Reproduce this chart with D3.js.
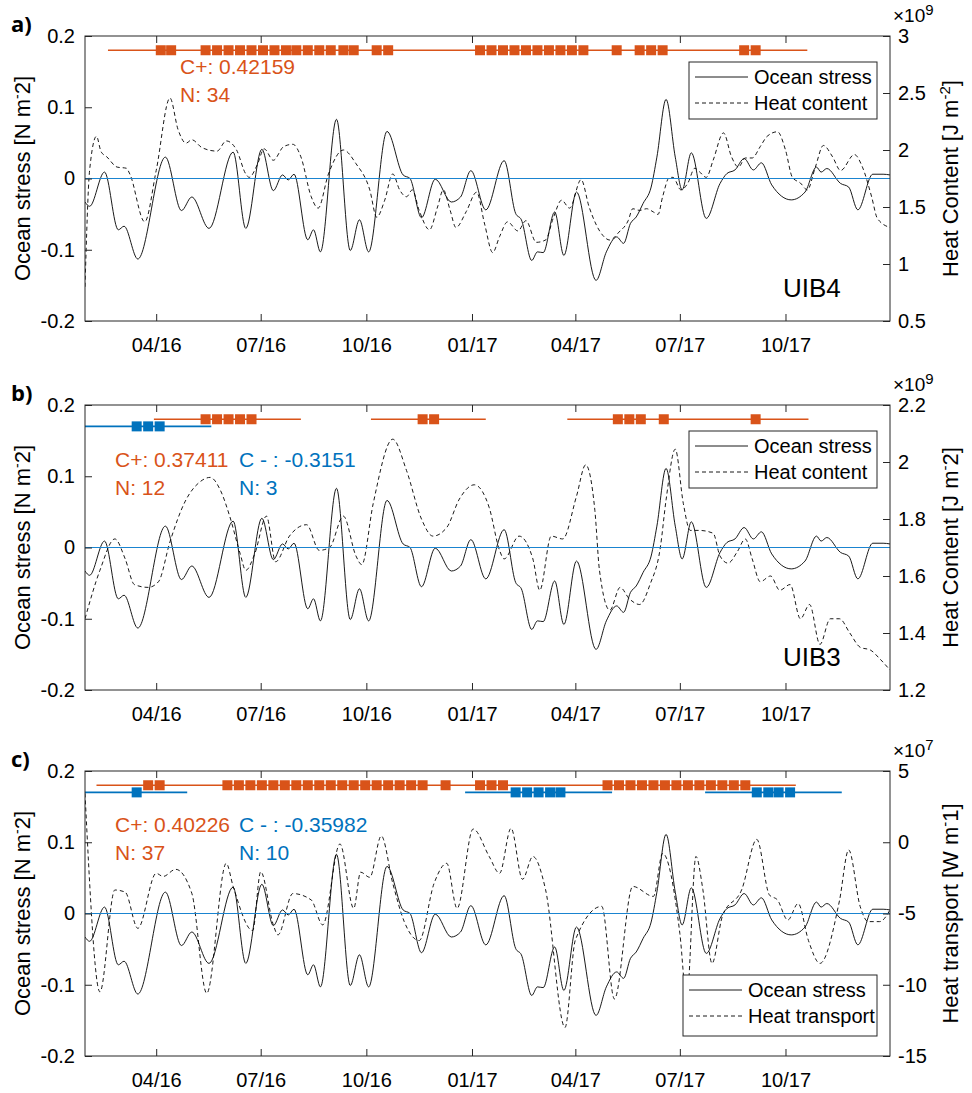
<!DOCTYPE html>
<html>
<head>
<meta charset="utf-8">
<script src="https://cdn.jsdelivr.net/npm/d3@7"></script>
<style>
  body { margin: 0; background: #fff; }
  svg text { font-family: "Liberation Sans", Arial, sans-serif; fill: #000; }
</style>
</head>
<body>
<svg id="chart" width="972" height="1093"></svg>
<script>
// ocean stress (same series in all three panels) [N m-2]
const stress = [
  ["2016-01-30",-0.033],["2016-02-03",-0.039],["2016-02-16",0.009],["2016-02-28",-0.072],["2016-03-04",-0.067],
  ["2016-03-16",-0.113],["2016-04-09",0.030],["2016-04-23",-0.045],["2016-05-02",-0.026],["2016-05-17",-0.070],
  ["2016-06-07",0.037],["2016-06-18",-0.070],["2016-07-02",0.041],["2016-07-12",-0.017],["2016-07-20",0.005],
  ["2016-07-25",-0.002],["2016-07-30",0.006],["2016-08-11",-0.086],["2016-08-16",-0.072],["2016-08-22",-0.103],
  ["2016-09-05",0.083],["2016-09-17",-0.101],["2016-09-25",-0.058],["2016-10-03",-0.103],["2016-10-19",0.066],
  ["2016-11-02",0.005],["2016-11-08",0.000],["2016-11-18",-0.055],["2016-11-30",-0.001],["2016-12-14",-0.033],
  ["2016-12-22",-0.026],["2016-12-31",0.011],["2017-01-13",-0.044],["2017-01-29",0.025],["2017-02-08",-0.049],
  ["2017-02-13",-0.058],["2017-02-22",-0.115],["2017-02-27",-0.103],["2017-03-04",-0.104],["2017-03-14",-0.047],
  ["2017-03-22",-0.108],["2017-04-02",-0.019],["2017-04-19",-0.143],["2017-04-28",-0.103],["2017-05-07",-0.082],
  ["2017-05-13",-0.091],["2017-05-19",-0.063],["2017-05-24",-0.054],["2017-05-30",-0.035],["2017-06-06",-0.012],
  ["2017-06-11",0.030],["2017-06-19",0.111],["2017-06-27",0.030],["2017-07-03",-0.016],["2017-07-11",0.036],
  ["2017-07-24",-0.056],["2017-08-05",-0.007],["2017-08-11",0.007],["2017-08-18",0.012],["2017-08-26",0.028],
  ["2017-09-03",0.012],["2017-09-10",0.022],["2017-09-19",-0.009],["2017-10-06",-0.030],["2017-10-18",-0.019],
  ["2017-10-28",0.016],["2017-11-01",0.009],["2017-11-06",0.014],["2017-11-18",-0.007],["2017-11-25",-0.012],
  ["2017-12-03",-0.044],["2017-12-16",0.006],["2017-12-25",0.006],["2017-12-31",0.005]
];

// heat content at UIB4 [x1e9 J m-2]
const heatContentA = [
  ["2016-01-30",0.80],["2016-02-03",1.82],["2016-02-09",2.12],["2016-02-13",1.985],["2016-02-18",1.94],
  ["2016-02-27",1.85],["2016-03-06",1.84],["2016-03-09",1.79],["2016-03-22",1.37],["2016-04-01",1.82],
  ["2016-04-13",2.456],["2016-04-20",2.18],["2016-04-27",2.06],["2016-05-02",2.09],["2016-05-11",2.02],
  ["2016-05-24",1.99],["2016-06-01",2.08],["2016-06-10",2.00],["2016-06-18",1.79],["2016-06-21",1.76],
  ["2016-06-28",1.87],["2016-07-04",2.01],["2016-07-12",1.91],["2016-07-21",2.03],["2016-07-29",2.05],
  ["2016-08-05",1.94],["2016-08-14",1.59],["2016-08-20",1.49],["2016-08-29",1.79],["2016-09-11",2.00],
  ["2016-09-22",1.88],["2016-10-04",1.65],["2016-10-10",1.41],["2016-10-17",1.56],["2016-10-24",1.79],
  ["2016-10-30",1.65],["2016-11-05",1.59],["2016-11-10",1.65],["2016-11-16",1.47],["2016-11-25",1.30],
  ["2016-12-02",1.50],["2016-12-07",1.65],["2016-12-13",1.47],["2016-12-18",1.32],["2016-12-27",1.46],
  ["2017-01-05",1.63],["2017-01-12",1.35],["2017-01-19",1.10],["2017-01-25",1.24],["2017-02-01",1.37],
  ["2017-02-10",1.29],["2017-02-17",1.38],["2017-02-26",1.19],["2017-03-06",1.21],["2017-03-13",1.41],
  ["2017-03-20",1.56],["2017-03-27",1.49],["2017-04-06",1.74],["2017-04-13",1.50],["2017-04-25",1.25],
  ["2017-05-01",1.21],["2017-05-09",1.28],["2017-05-17",1.38],["2017-05-21",1.485],["2017-05-27",1.47],
  ["2017-06-02",1.485],["2017-06-08",1.456],["2017-06-12",1.435],["2017-06-16",1.59],["2017-06-22",1.76],
  ["2017-06-25",1.76],["2017-07-02",1.65],["2017-07-08",1.71],["2017-07-14",1.84],["2017-07-18",1.81],
  ["2017-07-24",1.76],["2017-07-30",1.91],["2017-08-08",2.15],["2017-08-15",1.94],["2017-08-21",1.85],
  ["2017-08-27",1.93],["2017-09-02",1.93],["2017-09-09",2.03],["2017-09-15",2.12],["2017-09-24",2.16],
  ["2017-10-01",2.00],["2017-10-07",1.76],["2017-10-14",1.71],["2017-10-20",1.65],["2017-10-27",1.85],
  ["2017-11-03",2.04],["2017-11-11",1.94],["2017-11-18",1.82],["2017-11-30",1.96],["2017-12-07",1.85],
  ["2017-12-15",1.59],["2017-12-20",1.40],["2017-12-31",1.32]
];

// heat content at UIB3 [x1e9 J m-2]
const heatContentB = [
  ["2016-01-30",1.45],["2016-02-12",1.62],["2016-02-25",1.73],["2016-03-05",1.66],["2016-03-13",1.57],
  ["2016-03-25",1.56],["2016-04-03",1.58],["2016-04-13",1.72],["2016-04-26",1.86],["2016-05-09",1.93],
  ["2016-05-18",1.946],["2016-05-27",1.90],["2016-06-04",1.81],["2016-06-13",1.68],["2016-06-18",1.62],
  ["2016-06-26",1.68],["2016-07-06",1.81],["2016-07-14",1.65],["2016-07-26",1.74],["2016-08-10",1.78],
  ["2016-08-21",1.69],["2016-08-30",1.70],["2016-09-11",1.81],["2016-09-22",1.67],["2016-09-27",1.64],
  ["2016-10-07",1.855],["2016-10-24",2.08],["2016-11-05",1.97],["2016-11-18",1.80],["2016-11-28",1.74],
  ["2016-12-10",1.77],["2016-12-21",1.87],["2017-01-03",1.92],["2017-01-16",1.84],["2017-01-25",1.69],
  ["2017-01-29",1.66],["2017-02-11",1.74],["2017-02-23",1.66],["2017-03-01",1.55],["2017-03-11",1.74],
  ["2017-03-21",1.73],["2017-04-02",1.88],["2017-04-10",1.99],["2017-04-18",1.83],["2017-04-22",1.62],
  ["2017-05-01",1.48],["2017-05-10",1.56],["2017-05-18",1.52],["2017-05-27",1.50],["2017-06-05",1.57],
  ["2017-06-14",1.70],["2017-06-19",1.867],["2017-06-27",2.045],["2017-07-04",1.855],["2017-07-10",1.76],
  ["2017-07-18",1.76],["2017-07-30",1.75],["2017-08-05",1.67],["2017-08-12",1.645],["2017-08-20",1.685],
  ["2017-08-27",1.73],["2017-09-02",1.66],["2017-09-09",1.58],["2017-09-18",1.60],["2017-09-26",1.55],
  ["2017-10-05",1.57],["2017-10-14",1.45],["2017-10-22",1.50],["2017-10-31",1.36],["2017-11-09",1.45],
  ["2017-11-17",1.45],["2017-11-26",1.40],["2017-12-05",1.35],["2017-12-14",1.34],["2017-12-22",1.31],
  ["2017-12-31",1.27]
];

// heat transport [x1e7 W m-1]
const heatTransportC = [
  ["2016-01-30",3.43],["2016-02-12",-10.5],["2016-02-25",-3.35],["2016-03-05",-3.5],["2016-03-16",-6.04],
  ["2016-04-01",-2.18],["2016-04-07",-2.4],["2016-04-18",-1.9],["2016-05-02",-3.58],["2016-05-15",-10.6],
  ["2016-06-01",-1.48],["2016-06-07",-3.1],["2016-06-24",-6.2],["2016-07-01",-2.07],["2016-07-12",-5.8],
  ["2016-07-16",-6.5],["2016-07-29",-3.6],["2016-08-14",-4.05],["2016-08-24",-5.8],["2016-09-08",-0.12],
  ["2016-09-20",-4.64],["2016-09-26",-2.1],["2016-10-04",-2.46],["2016-10-14",0.44],["2016-10-24",-2.88],
  ["2016-11-03",-5.57],["2016-11-16",-6.9],["2016-11-29",-2.88],["2016-12-10",-1.48],["2016-12-19",-4.64],
  ["2017-01-02",0.93],["2017-01-16",-1.0],["2017-01-25",-2.18],["2017-02-04",0.98],["2017-02-14",-2.6],
  ["2017-02-23",-1.0],["2017-03-06",-3.3],["2017-03-23",-13.0],["2017-04-01",-6.86],["2017-04-24",-4.5],
  ["2017-05-05",-11.0],["2017-05-21",-3.1],["2017-06-08",-3.8],["2017-06-16",-0.78],["2017-07-01",-6.4],
  ["2017-07-07",-11.0],["2017-07-15",-1.0],["2017-07-21",-3.3],["2017-07-29",-8.5],["2017-08-07",-5.2],
  ["2017-08-24",-3.3],["2017-09-06",0.2],["2017-09-17",-3.7],["2017-09-24",-4.05],["2017-10-03",-5.46],
  ["2017-10-12",-4.3],["2017-10-21",-6.9],["2017-10-31",-8.5],["2017-11-17",-4.1],["2017-11-25",-0.54],
  ["2017-12-05",-4.5],["2017-12-12",-5.57],["2017-12-22",-5.57],["2017-12-31",-4.75]
];

// detected events: C+ (orange) and C- (blue), with their window segments
const posSegA = [["2016-02-19","2017-10-20"]];
const posEventsA = ["2016-04-05","2016-04-14","2016-05-14","2016-05-24","2016-06-03","2016-06-13","2016-06-23",
  "2016-07-03","2016-07-13","2016-07-23","2016-08-01","2016-08-11","2016-08-21","2016-08-31","2016-09-11",
  "2016-09-20","2016-10-10","2016-10-20","2017-01-08","2017-01-18","2017-01-28","2017-02-07","2017-02-17",
  "2017-02-27","2017-03-09","2017-03-19","2017-03-29","2017-04-08","2017-05-07","2017-05-27","2017-06-06",
  "2017-06-16","2017-08-26","2017-09-05"];

const posSegB = [["2016-03-30","2016-08-05"],["2016-10-05","2017-01-13"],["2017-03-25","2017-10-21"]];
const posEventsB = ["2016-05-14","2016-05-24","2016-06-03","2016-06-13","2016-06-23","2016-11-19","2016-11-29",
  "2017-05-08","2017-05-18","2017-05-28","2017-06-17","2017-09-05"];
const negSegB = [["2016-01-30","2016-05-19"]];
const negEventsB = ["2016-03-15","2016-03-25","2016-04-04"];

const posSegC = [["2016-02-09","2017-10-10"]];
const posEventsC = ["2016-03-25","2016-04-04","2016-06-02","2016-06-12","2016-06-22","2016-07-02","2016-07-12",
  "2016-07-22","2016-08-01","2016-08-11","2016-08-21","2016-08-31","2016-09-10","2016-09-20","2016-09-30",
  "2016-10-10","2016-10-20","2016-10-30","2016-11-09","2016-11-19","2016-12-09","2017-01-08","2017-01-18",
  "2017-01-28","2017-04-29","2017-05-09","2017-05-19","2017-05-29","2017-06-08","2017-06-18","2017-06-28",
  "2017-07-08","2017-07-18","2017-07-28","2017-08-07","2017-08-17","2017-08-27"];
const negSegC = [["2016-01-30","2016-04-28"],["2016-12-26","2017-05-03"],["2017-07-23","2017-11-19"]];
const negEventsC = ["2016-03-15","2017-02-08","2017-02-18","2017-02-28","2017-03-10","2017-03-19",
  "2017-09-06","2017-09-16","2017-09-25","2017-10-05"];

// ticks
const monthTicks = ["2016-04-01","2016-07-01","2016-10-01","2017-01-01","2017-04-01","2017-07-01","2017-10-01"];
const stressTicks = [-0.2, -0.1, 0, 0.1, 0.2];
const ticksA = [0.5, 1, 1.5, 2, 2.5, 3];
const ticksB = [1.2, 1.4, 1.6, 1.8, 2.0, 2.2];
const ticksC = [-15, -10, -5, 0, 5];

const ORANGE = "#D95319", BLUE = "#0072BD", AXIS = "#262626";
const parse = d3.utcParse("%Y-%m-%d");
const left = 85, right = 890, plotH = 285;

const x = d3.scaleUtc()
  .domain([parse("2016-01-30"), parse("2017-12-31")])
  .range([left, right]);

const svg = d3.select("#chart");

const panels = [
  { key: "a", top: 36, series: heatContentA, rDomain: [0.5, 3], rTicks: ticksA, exp: "9",
    rLabel: ["Heat Content [J m", "-2", "]"], legendName: "Heat content", station: "UIB4",
    posSeg: posSegA, posEvents: posEventsA, negSeg: [], negEvents: [],
    posText: ["C+: 0.42159", "N: 34"], negText: null, textX: 180, textDy: 38, legendX: 689 },
  { key: "b", top: 405, series: heatContentB, rDomain: [1.2, 2.2], rTicks: ticksB, exp: "9",
    rLabel: ["Heat Content [J m", "-", "2]"], legendName: "Heat content", station: "UIB3",
    posSeg: posSegB, posEvents: posEventsB, negSeg: negSegB, negEvents: negEventsB,
    posText: ["C+: 0.37411", "N: 12"], negText: ["C - : -0.3151", "N: 3"], textX: 115, textDy: 62, legendX: 689 },
  { key: "c", top: 771, series: heatTransportC, rDomain: [-15, 5], rTicks: ticksC, exp: "7",
    rLabel: ["Heat transport [W m", "-", "1]"], legendName: "Heat transport", station: null,
    posSeg: posSegC, posEvents: posEventsC, negSeg: negSegC, negEvents: negEventsC,
    posText: ["C+: 0.40226", "N: 37"], negText: ["C - : -0.35982", "N: 10"], textX: 115, textDy: 61, legendX: 683 }
];

panels.forEach(drawPanel);

function drawPanel(p) {
  const bottom = p.top + plotH;
  const yL = d3.scaleLinear().domain([-0.2, 0.2]).range([bottom, p.top]);
  const yR = d3.scaleLinear().domain(p.rDomain).range([bottom, p.top]);
  const g = svg.append("g").attr("class", "panel-" + p.key);

  g.append("clipPath").attr("id", "clip-" + p.key)
    .append("rect").attr("x", left).attr("y", p.top).attr("width", right - left).attr("height", plotH);

  const plot = g.append("g").attr("clip-path", `url(#clip-${p.key})`);

  // dashed right-axis series
  const lineR = d3.line().x(d => x(parse(d[0]))).y(d => yR(d[1])).curve(d3.curveMonotoneX);
  plot.append("path").datum(p.series)
    .attr("d", lineR).attr("fill", "none")
    .attr("stroke", "#000").attr("stroke-width", 0.9).attr("stroke-dasharray", "4,3");

  // ocean stress
  const lineL = d3.line().x(d => x(parse(d[0]))).y(d => yL(d[1])).curve(d3.curveMonotoneX);
  plot.append("path").datum(stress)
    .attr("d", lineL).attr("fill", "none")
    .attr("stroke", "#000").attr("stroke-width", 0.9);

  // zero reference line (left axis)
  plot.append("line")
    .attr("x1", left).attr("x2", right)
    .attr("y1", yL(0)).attr("y2", yL(0))
    .attr("stroke", "#1a84d0").attr("stroke-width", 1)
    .attr("shape-rendering", "crispEdges");

  // events
  drawEvents(g, p.negSeg, p.negEvents, yL(0.17), BLUE);
  drawEvents(g, p.posSeg, p.posEvents, yL(0.18), ORANGE);

  // axes
  const styleAxis = sel => {
    sel.attr("font-size", 20).attr("font-family", null).attr("color", AXIS);
    sel.select(".domain").remove();
    sel.selectAll("text").attr("fill", "#000");
  };
  g.append("g").attr("transform", `translate(${left},0)`)
    .call(d3.axisLeft(yL).tickValues(stressTicks).tickSize(-7).tickPadding(10).tickFormat(d => String(d)))
    .call(styleAxis);
  g.append("g").attr("transform", `translate(${right},0)`)
    .call(d3.axisRight(yR).tickValues(p.rTicks).tickSize(-7).tickPadding(8)
      .tickFormat(d => String(Math.round(d * 10) / 10)))
    .call(styleAxis);
  g.append("g").attr("transform", `translate(0,${bottom})`)
    .call(d3.axisBottom(x).tickValues(monthTicks.map(parse)).tickSize(-7).tickPadding(17)
      .tickFormat(d3.utcFormat("%m/%y")))
    .call(styleAxis);
  g.append("g").attr("transform", `translate(0,${p.top})`)
    .call(d3.axisTop(x).tickValues(monthTicks.map(parse)).tickSize(-7).tickFormat(""))
    .call(styleAxis);

  g.append("rect")
    .attr("x", left).attr("y", p.top).attr("width", right - left).attr("height", plotH)
    .attr("fill", "none").attr("stroke", AXIS).attr("stroke-width", 1);

  // axis labels
  const midY = p.top + plotH / 2;
  const lab = g.append("text")
    .attr("transform", `translate(30,${midY}) rotate(-90)`)
    .attr("text-anchor", "middle").attr("font-size", 22);
  lab.append("tspan").text("Ocean stress [N m");
  lab.append("tspan").attr("dy", -8).attr("font-size", 14).text("-");
  lab.append("tspan").attr("dy", 8).text("2]");

  const rl = g.append("text")
    .attr("transform", `translate(958,${midY}) rotate(-90)`)
    .attr("text-anchor", "middle").attr("font-size", 22);
  rl.append("tspan").text(p.rLabel[0]);
  rl.append("tspan").attr("dy", -8).attr("font-size", 15).text(p.rLabel[1]);
  rl.append("tspan").attr("dy", 8).text(p.rLabel[2]);

  // exponent
  const ex = g.append("text").attr("x", 893).attr("y", p.top - 14).attr("font-size", 19);
  ex.append("tspan").text("\u00d710");
  ex.append("tspan").attr("dy", -7).attr("font-size", 15).text(p.exp);

  // panel letter
  g.append("text").attr("x", 11).attr("y", p.top - 4)
    .attr("font-size", 22).attr("font-weight", "bold")
    .style("font-family", "'Open Sans', sans-serif")
    .text(p.key + ")");

  // statistics
  p.posText.forEach((t, i) => {
    g.append("text").attr("x", p.textX).attr("y", p.top + p.textDy + i * 27.5)
      .attr("font-size", 21).style("fill", ORANGE).text(t);
  });
  if (p.negText) {
    p.negText.forEach((t, i) => {
      g.append("text").attr("x", 239).attr("y", p.top + p.textDy + i * 27.5)
        .attr("font-size", 21).style("fill", BLUE).text(t);
    });
  }

  if (p.station) {
    g.append("text").attr("x", 783).attr("y", p.top + 261).attr("font-size", 26).text(p.station);
  }

  // legend
  const lx = p.legendX, ly = p.key === "c" ? 975 : p.top + 26;
  const lw = 877 - lx, lh = p.key === "c" ? 61 : 57;
  const leg = g.append("g");
  leg.append("rect").attr("x", lx).attr("y", ly).attr("width", lw).attr("height", lh)
    .attr("fill", "#fff").attr("stroke", AXIS).attr("stroke-width", 1);
  const rows = [{ name: "Ocean stress", dash: null }, { name: p.legendName, dash: "4,3" }];
  rows.forEach((r, i) => {
    const yy = ly + 15 + i * 26;
    leg.append("line").attr("x1", lx + 6).attr("x2", lx + 59).attr("y1", yy).attr("y2", yy)
      .attr("stroke", "#000").attr("stroke-width", 0.9).attr("stroke-dasharray", r.dash);
    leg.append("text").attr("x", lx + 65).attr("y", yy + 7).attr("font-size", 20).text(r.name);
  });
}

function drawEvents(g, segs, dates, yy, color) {
  g.selectAll(null).data(segs).join("line")
    .attr("x1", d => x(parse(d[0]))).attr("x2", d => x(parse(d[1])))
    .attr("y1", yy).attr("y2", yy)
    .attr("stroke", color).attr("stroke-width", 1.6);
  g.selectAll(null).data(dates).join("rect")
    .attr("x", d => x(parse(d)) - 5).attr("y", yy - 5)
    .attr("width", 10).attr("height", 10)
    .attr("fill", color);
}
</script>
</body>
</html>
